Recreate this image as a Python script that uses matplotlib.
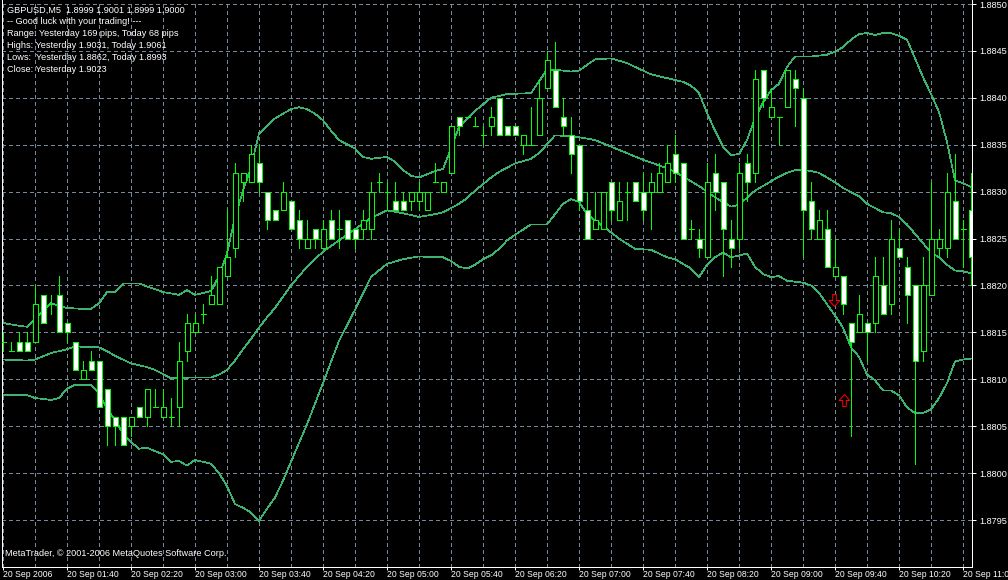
import matplotlib
matplotlib.use('Agg')
import matplotlib.pyplot as plt
from matplotlib.patches import Rectangle
from matplotlib.path import Path
from matplotlib import font_manager as fm

# ---------------- data (GBPUSD M5) ----------------
opens = [1.8814,1.8813,1.8814,1.8814,1.8814,1.8819,1.8818,1.8819,1.8816,1.8814,
         1.8810,1.8812,1.8812,1.8809,1.8806,1.8806,1.8805,1.8807,1.8806,1.8807,
         1.8806,1.8806,1.8807,1.8813,1.8815,1.8817,1.8818,1.8818,1.8821,1.8824,
         1.8831,1.8831,1.8833,1.8830,1.8828,1.8828,1.8829,1.8827,1.8824,1.8826,
         1.8824,1.8827,1.8826,1.8827,1.8826,1.8826,1.8826,1.8831,1.8830,1.8829,
         1.8829,1.8829,1.8829,1.8828,1.8831,1.8830,1.8832,1.8838,1.8838,1.8837,
         1.8836,1.8837,1.8840,1.8837,1.8837,1.8835,1.8835,1.8836,1.8841,1.8843,
         1.8838,1.8836,1.8835,1.8828,1.8826,1.8826,1.8831,1.8827,1.8830,1.8831,
         1.8830,1.8830,1.8830,1.8831,1.8834,1.8833,1.8826,1.8825,1.8823,1.8832,
         1.8831,1.8825,1.8825,1.8833,1.8832,1.8843,1.8838,1.8838,1.8839,1.8842,
         1.8840,1.8829,1.8825,1.8826,1.8821,1.8821,1.8816,1.8815,1.8816,1.8816,
         1.8820,1.8818,1.8824,1.8822,1.8820,1.8813,1.8819,1.8824,1.8824,1.8829,
         1.8826,1.8828]
highs = [1.8815,1.8814,1.8815,1.8815,1.8820,1.8819,1.8819,1.8821,1.8816,1.8814,
         1.8812,1.8813,1.8812,1.8809,1.8806,1.8806,1.8806,1.8807,1.8809,1.8809,
         1.8809,1.8808,1.8814,1.8817,1.8817,1.8818,1.8821,1.8822,1.8828,1.8833,
         1.8832,1.8835,1.8835,1.8830,1.8828,1.8831,1.8829,1.8828,1.8827,1.8826,
         1.8827,1.8828,1.8828,1.8827,1.8826,1.8828,1.8831,1.8832,1.8831,1.8831,
         1.8830,1.8830,1.8831,1.8830,1.8833,1.8831,1.8837,1.8838,1.8838,1.8838,
         1.8837,1.8839,1.8840,1.8837,1.8837,1.8836,1.8839,1.8842,1.8845,1.8846,
         1.8840,1.8838,1.8835,1.8830,1.8830,1.8830,1.8831,1.8831,1.8831,1.8831,
         1.8832,1.8832,1.8833,1.8835,1.8836,1.8833,1.8827,1.8826,1.8833,1.8834,
         1.8831,1.8827,1.8833,1.8834,1.8843,1.8843,1.8841,1.8838,1.8843,1.8843,
         1.8841,1.8831,1.8828,1.8828,1.8825,1.8821,1.8816,1.8819,1.8816,1.8823,
         1.8823,1.8827,1.8826,1.8823,1.8820,1.8823,1.8831,1.8826,1.8832,1.8834,
         1.8827,1.8832]
lows = [1.8813,1.8813,1.8813,1.8813,1.8814,1.8816,1.8817,1.8815,1.8814,1.8811,
        1.8810,1.8811,1.8807,1.8803,1.8803,1.8803,1.8804,1.8806,1.8805,1.8807,
        1.8806,1.8805,1.8805,1.8812,1.8815,1.8816,1.8818,1.8818,1.8821,1.8823,
        1.8829,1.8831,1.8830,1.8826,1.8827,1.8828,1.8826,1.8824,1.8824,1.8824,
        1.8824,1.8825,1.8824,1.8825,1.8824,1.8825,1.8825,1.8830,1.8828,1.8828,
        1.8828,1.8828,1.8828,1.8828,1.8831,1.8830,1.8832,1.8836,1.8838,1.8837,
        1.8835,1.8836,1.8836,1.8836,1.8836,1.8834,1.8835,1.8836,1.8841,1.8839,
        1.8836,1.8832,1.8828,1.8825,1.8826,1.8826,1.8827,1.8827,1.8827,1.8829,
        1.8827,1.8826,1.8830,1.8831,1.8831,1.8825,1.8825,1.8823,1.8823,1.8828,
        1.8821,1.8822,1.8824,1.8829,1.8831,1.8839,1.8838,1.8835,1.8839,1.8837,
        1.8823,1.8825,1.8825,1.8822,1.8821,1.8817,1.8804,1.8815,1.8812,1.8815,
        1.8817,1.8817,1.8823,1.8816,1.8801,1.8812,1.8819,1.8823,1.8823,1.8825,
        1.8822,1.8820]
closes = [1.8814,1.8813,1.8813,1.8813,1.8818,1.8816,1.8818,1.8815,1.8815,1.8811,
          1.8811,1.8811,1.8807,1.8805,1.8805,1.8803,1.8806,1.8806,1.8809,1.8807,
          1.8807,1.8806,1.8812,1.8816,1.8816,1.8817,1.8819,1.8822,1.8823,1.8832,
          1.8832,1.8834,1.8831,1.8827,1.8827,1.8830,1.8826,1.8825,1.8825,1.8825,
          1.8826,1.8825,1.8826,1.8825,1.8825,1.8827,1.8830,1.8831,1.8830,1.8828,
          1.8828,1.8830,1.8830,1.8830,1.8831,1.8831,1.8837,1.8837,1.8838,1.8837,
          1.8836,1.8838,1.8836,1.8836,1.8836,1.8836,1.8835,1.8840,1.8844,1.8839,
          1.8837,1.8834,1.8829,1.8825,1.8827,1.8830,1.8828,1.8829,1.8830,1.8829,
          1.8828,1.8831,1.8832,1.8833,1.8832,1.8825,1.8826,1.8824,1.8831,1.8830,
          1.8826,1.8824,1.8832,1.8831,1.8842,1.8840,1.8839,1.8838,1.8843,1.8841,
          1.8828,1.8826,1.8827,1.8822,1.8822,1.8818,1.8814,1.8817,1.8815,1.8821,
          1.8817,1.8825,1.8823,1.8819,1.8812,1.8820,1.8825,1.8825,1.8830,1.8825,
          1.8826,1.8823]

# Bollinger bands (read at selected bars)
upper_bar = [0,2,3,4,6,8,10,11,12,13,14,15,17,18,20,22,23,24,26,27,28,29,30,31,32,33,34,36,37,38,39,40,
             41,42,44,45,46,48,49,50,51,52,54,55,56,57,59,61,63,66,68,69,71,72,74,76,78,81,84,85,86,87,
             88,89,90,91,92,93,94,95,96,97,98,99,101,103,104,105,106,107,108,109,110,111,112,113,114,115,
             116,117,118,119,120,121]
upper = [1.88160,1.88157,1.88156,1.88164,1.88181,1.88176,1.88175,1.88175,1.88181,1.88193,1.88193,1.88202,
         1.88202,1.88199,1.88193,1.88190,1.88195,1.88190,1.88194,1.88210,1.88234,1.88273,1.88301,1.88326,
         1.88362,1.88370,1.88378,1.88388,1.88390,1.88388,1.88383,1.88376,1.88365,1.88355,1.88346,1.88337,
         1.88335,1.88337,1.88332,1.88323,1.88317,1.88315,1.88322,1.88324,1.88346,1.88369,1.88386,1.88400,
         1.88404,1.88405,1.88430,1.88430,1.88428,1.88429,1.88441,1.88442,1.88437,1.88425,1.88419,1.88417,
         1.88413,1.88405,1.88384,1.88365,1.88348,1.88339,1.88340,1.88355,1.88378,1.88395,1.88408,1.88415,
         1.88433,1.88444,1.88444,1.88446,1.88449,1.88454,1.88462,1.88468,1.88469,1.88467,1.88469,1.88469,
         1.88466,1.88462,1.88442,1.88422,1.88404,1.88385,1.88353,1.88312,1.88309,1.88305]
middle_bar = [0,3,4,6,8,9,12,13,14,16,18,19,21,24,26,27,28,29,30,31,32,33,34,35,36,38,40,42,44,46,48,50,
              52,54,55,57,58,59,60,61,62,64,66,67,69,71,72,74,76,78,80,83,84,85,87,89,91,92,94,96,97,98,
              99,100,101,102,104,105,107,108,110,111,112,113,114,116,117,118,119,120,121]
middle = [1.88121,1.88120,1.88121,1.88128,1.88132,1.88135,1.88134,1.88130,1.88125,1.88117,1.88113,1.88110,
          1.88101,1.88102,1.88102,1.88105,1.88110,1.88120,1.88132,1.88143,1.88155,1.88166,1.88176,1.88188,
          1.88200,1.88220,1.88236,1.88248,1.88260,1.88272,1.88280,1.88277,1.88273,1.88276,1.88278,1.88287,
          1.88293,1.88301,1.88308,1.88315,1.88321,1.88330,1.88335,1.88341,1.88360,1.88359,1.88358,1.88355,
          1.88348,1.88341,1.88334,1.88325,1.88321,1.88316,1.88306,1.88294,1.88284,1.88286,1.88301,1.88311,
          1.88316,1.88320,1.88323,1.88323,1.88322,1.88320,1.88310,1.88304,1.88295,1.88287,1.88278,1.88277,
          1.88273,1.88265,1.88255,1.88235,1.88230,1.88222,1.88216,1.88215,1.88213]
lower_bar = [0,3,4,6,7,8,9,11,12,13,14,15,16,17,18,20,21,22,23,24,26,27,28,29,30,31,32,33,34,35,36,37,38,
             40,42,44,46,48,50,52,54,55,56,57,58,59,60,61,62,63,64,66,68,70,71,72,73,75,77,79,81,83,84,85,
             86,87,88,89,90,91,92,93,94,95,96,97,98,99,100,101,102,103,104,105,106,107,108,109,110,111,112,
             113,114,115,116,117,118,119,120,121]
lower = [1.88083,1.88083,1.88080,1.88078,1.88080,1.88090,1.88094,1.88094,1.88086,1.88068,1.88057,1.88042,
         1.88033,1.88026,1.88027,1.88020,1.88012,1.88013,1.88008,1.88014,1.88010,1.88000,1.87986,1.87967,
         1.87963,1.87958,1.87949,1.87962,1.87974,1.87992,1.88012,1.88032,1.88052,1.88096,1.88141,1.88174,
         1.88209,1.88223,1.88228,1.88231,1.88230,1.88230,1.88226,1.88220,1.88218,1.88222,1.88228,1.88232,
         1.88239,1.88248,1.88254,1.88265,1.88265,1.88287,1.88292,1.88289,1.88276,1.88263,1.88250,1.88239,
         1.88238,1.88230,1.88228,1.88223,1.88218,1.88209,1.88222,1.88230,1.88235,1.88230,1.88232,1.88234,
         1.88220,1.88212,1.88209,1.88210,1.88205,1.88204,1.88203,1.88200,1.88192,1.88180,1.88168,1.88155,
         1.88134,1.88124,1.88105,1.88099,1.88088,1.88088,1.88083,1.88070,1.88064,1.88064,1.88068,1.88080,
         1.88096,1.88119,1.88121,1.88122]

price_levels = [1.8795,1.8800,1.8805,1.8810,1.8815,1.8820,1.8825,1.8830,1.8835,1.8840,1.8845,1.8850]
price_labels = ["1.8795","1.8800","1.8805","1.8810","1.8815","1.8820","1.8825","1.8830","1.8835",
                "1.8840","1.8845","1.8850"]
time_bars = [0,8,16,24,32,40,48,56,64,72,80,88,96,104,112,120]
time_labels = ["20 Sep 2006","20 Sep 01:40","20 Sep 02:20","20 Sep 03:00","20 Sep 03:40","20 Sep 04:20",
               "20 Sep 05:00","20 Sep 05:40","20 Sep 06:20","20 Sep 07:00","20 Sep 07:40","20 Sep 08:20",
               "20 Sep 09:00","20 Sep 09:40","20 Sep 10:20","20 Sep 11:00"]
info_lines = ["GBPUSD,M5  1.8999 1.9001 1.8999 1.9000",
              "-- Good luck with your trading! ---",
              "Range: Yesterday 169 pips, Today 68 pips",
              "Highs: Yesterday 1.9031, Today 1.9061",
              "Lows:  Yesterday 1.8862, Today 1.8993",
              "Close: Yesterday 1.9023"]
copyright_text = "MetaTrader, \u00a9 2001-2006 MetaQuotes Software Corp."
arrow_down = (103.85, 1.88184)
arrow_up = (105.1, 1.88078)

# ---------------- style ----------------
W, H = 1008, 580
PX = 0.72  # one pixel in points
names = {f.name for f in fm.fontManager.ttflist}
if 'Liberation Sans Narrow' in names:
    FONT, FS = ['Liberation Sans Narrow', 'DejaVu Sans'], 8.0
else:
    FONT, FS = ['Liberation Sans', 'DejaVu Sans'], 6.6
plt.rcParams['font.family'] = FONT

CANDLE = '#00FF00'
BAND = '#3CB371'
GRID = '#778899'

fig = plt.figure(figsize=(W / 100, H / 100), dpi=100, facecolor='black')
L, R, B = 2, 972, 567
ax = fig.add_axes([L / W, (H - B) / H, (R - L) / W, B / H])
ax.set_facecolor('black')
ax.set_xlim((L - 3) / 8, (R - 3) / 8)
scale = 516 / 0.0055  # pixels per price unit
ax.set_ylim(1.8850 - (B - 4) / scale, 1.8850 + 4 / scale)

# grid
for p in price_levels:
    ax.axhline(p, color=GRID, lw=PX, ls=(0, (4, 3)), antialiased=False, zorder=1)
for k in range(0, 122, 4):
    ax.axvline(k, color=GRID, lw=PX, ls=(0, (4, 3)), antialiased=False, zorder=1)

# bollinger bands
for xs, ys in ((upper_bar, upper), (middle_bar, middle), (lower_bar, lower)):
    ax.plot(xs, ys, color=BAND, lw=0.5, antialiased=False, zorder=2)

# candles
bw = 0.625
for k, (o, h, l, c) in enumerate(zip(opens, highs, lows, closes)):
    ax.vlines(k, l, h, color=CANDLE, lw=PX, antialiased=False, zorder=3)
    if abs(c - o) < 1e-9:
        ax.hlines(o, k - bw / 2, k + bw / 2, color=CANDLE, lw=PX, antialiased=False, zorder=4)
    else:
        face = 'black' if c > o else 'white'
        ax.add_patch(Rectangle((k - bw / 2, min(o, c)), bw, abs(c - o), facecolor=face,
                               edgecolor=CANDLE, lw=PX, antialiased=False, zorder=4))

# arrow objects
up_path = Path([(-0.3, -1), (0.3, -1), (0.3, 0), (0.9, 0), (0, 1), (-0.9, 0), (-0.3, 0), (-0.3, -1)],
               [1, 2, 2, 2, 2, 2, 2, 79])
down_path = Path([(x, -y) for x, y in up_path.vertices], up_path.codes)
ax.plot([arrow_down[0]], [arrow_down[1]], marker=down_path, ms=8.6, mfc='black', mec='#FF0000',
        mew=PX, ls='none', zorder=5)
ax.plot([arrow_up[0]], [arrow_up[1]], marker=up_path, ms=8.6, mfc='black', mec='#FF0000',
        mew=PX, ls='none', zorder=5)

# axes frame and ticks
for s in ('left', 'right', 'bottom'):
    ax.spines[s].set_color('white')
    ax.spines[s].set_linewidth(PX)
ax.spines['top'].set_visible(False)
ax.yaxis.tick_right()
ax.set_yticks(price_levels)
ax.set_yticklabels(price_labels)
ax.set_xticks(time_bars)
ax.set_xticklabels(time_labels, ha='left')
ax.tick_params(axis='y', colors='white', length=3, width=PX, pad=2, labelsize=FS)
ax.tick_params(axis='x', colors='white', length=2.2, width=PX, pad=0, labelsize=FS - 0.4)

# text overlays
for i, line in enumerate(info_lines):
    fig.text(7 / W, 1 - (10 + 12 * i) / H, line, color='white', fontsize=FS, va='center', ha='left')
fig.text(5 / W, 1 - 554 / H, copyright_text, color='white', fontsize=FS, va='center', ha='left')

fig.savefig('out.png', dpi=100, facecolor='black')
